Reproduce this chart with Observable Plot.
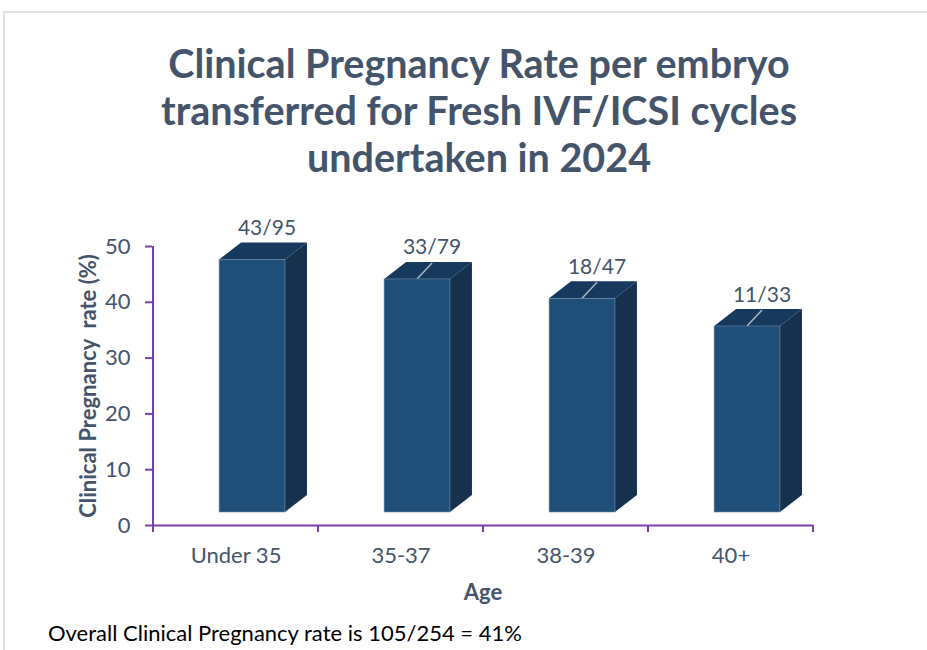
<!DOCTYPE html>
<html>
<head>
<meta charset="utf-8">
<script src="https://cdn.jsdelivr.net/npm/d3@7"></script>
<script src="https://cdn.jsdelivr.net/npm/@observablehq/plot@0.6"></script>
<style>
  html, body { margin: 0; padding: 0; background: #fff; overflow: hidden; width: 927px; height: 650px; }
  #frame { position: absolute; left: 3px; top: 11px; width: 1000px; height: 1000px;
           border-left: 2px solid #dfe3e8; border-top: 2px solid #dfe3e8; }
  #title { position: absolute; left: 0; top: 39px; width: 958px; text-align: center;
           font-family: Lato, "Open Sans", sans-serif; font-weight: bold; font-size: 39.5px;
           line-height: 47px; color: #44546a; }
  #chart { position: absolute; left: 0; top: 190px; }
  #caption { position: absolute; left: 48px; top: 619px; font-family: Lato, "Open Sans", sans-serif;
             font-size: 22px; color: #000; white-space: nowrap; }
</style>
</head>
<body>
<div id="frame"></div>
<div id="title">Clinical Pregnancy Rate per embryo<br>transferred for Fresh IVF/ICSI cycles<br>undertaken in 2024</div>
<div id="chart"></div>
<div id="caption">Overall Clinical Pregnancy rate is 105/254 = 41%</div>
<script>
const ageGroups = ["Under 35", "35-37", "38-39", "40+"];
const pregnancies = [43, 33, 18, 11];
const embryos = [95, 79, 47, 33];
const yTicks = [0, 10, 20, 30, 40, 50];

const data = ageGroups.map((age, i) => ({
  age,
  rate: pregnancies[i] / embryos[i] * 100,
  label: `${pregnancies[i]}/${embryos[i]}`,
  i
}));

const W = 927, H = 420;
const mL = 152, mR = 114, mT = 56, mB = 85;
const bw = (W - mL - mR) / ageGroups.length;
const inL = bw * 0.40, inR = bw * 0.20;
const depthX = 22, depthY = 17, lift = 13;
const axisColor = "#7b3fad";
const textColor = "#44546a";
const font = "Lato, 'Open Sans', sans-serif";

function depthFaces(index, scales) {
  const sx = scales.x, sy = scales.y;
  const band = typeof sx.bandwidth === "function" ? sx.bandwidth() : (sx.bandwidth ?? bw);
  const g = d3.create("svg:g");
  const x0a = sx(ageGroups[0]);
  const xEnd = sx(ageGroups[ageGroups.length - 1]) + band;
  g.append("line").attr("x1", x0a).attr("x2", x0a).attr("y1", sy(50)).attr("y2", sy(0) + 1)
    .attr("stroke", axisColor).attr("stroke-width", 2);
  const bounds = ageGroups.map(a => sx(a)).concat([xEnd]);
  for (const b of bounds) {
    g.append("line").attr("x1", b).attr("x2", b).attr("y1", sy(0)).attr("y2", sy(0) + 7)
      .attr("stroke", axisColor).attr("stroke-width", 2);
  }
  for (const d of data) {
    const x0 = sx(d.age) + inL;
    const x1 = sx(d.age) + band - inR;
    const yt = sy(d.rate) - lift;
    const yb = sy(0) - lift;
    g.append("path")
      .attr("d", `M${x0},${yt}L${x1},${yt}L${x1 + depthX},${yt - depthY}L${x0 + depthX},${yt - depthY}Z`)
      .attr("fill", "#18395e");
    g.append("path")
      .attr("d", `M${x1},${yt}L${x1 + depthX},${yt - depthY}L${x1 + depthX},${yb - depthY}L${x1},${yb}Z`)
      .attr("fill", "#15314d");
    if (d.i > 0) {
      const cx = (x0 + x1) / 2;
      g.append("line").attr("x1", cx).attr("y1", yt).attr("x2", cx + 15).attr("y2", yt - 16)
        .attr("stroke", "#a9b6c6").attr("stroke-width", 1.5);
    }
  }
  return g.node();
}

const chart = Plot.plot({
  width: W,
  height: H,
  marginLeft: mL,
  marginRight: mR,
  marginTop: mT,
  marginBottom: mB,
  style: { fontFamily: font, background: "transparent", overflow: "visible" },
  x: { domain: ageGroups, padding: 0 },
  y: { domain: [0, 50] },
  marks: [
    Plot.ruleY([0], { stroke: axisColor, strokeWidth: 2 }),
    Plot.axisY({ ticks: yTicks, tickSize: 7, stroke: axisColor, strokeWidth: 2,
                 tickFormat: () => "", label: null }),
    Plot.text(yTicks, { y: d => d, text: d => String(d), frameAnchor: "left", textAnchor: "end",
                        dx: -22, fill: textColor, fontSize: 22, lineAnchor: "middle" }),
    Plot.axisX({ tickSize: 0, tickPadding: 22, fill: textColor, fontSize: 22, label: null }),
    Plot.text(["Age"], { frameAnchor: "bottom", dy: 74, fill: textColor, fontSize: 22, fontWeight: "bold" }),
    Plot.text(["Clinical Pregnancy  rate (%)"], { frameAnchor: "left", textAnchor: "middle", dx: -64, rotate: -90,
               fill: textColor, fontSize: 22, fontWeight: "bold", lineAnchor: "middle" }),
    depthFaces,
    Plot.barY(data, { x: "age", y: "rate", fill: "#1f4e79", dy: -lift, insetLeft: inL, insetRight: inR,
                      stroke: "#6f8aa6", strokeWidth: 0.6 }),
    Plot.text(data, { x: "age", y: "rate", text: "label", dx: 31, dy: -38,
                      lineAnchor: "bottom", fill: textColor, fontSize: 21 })
  ]
});
document.getElementById("chart").appendChild(chart);
</script>
</body>
</html>
